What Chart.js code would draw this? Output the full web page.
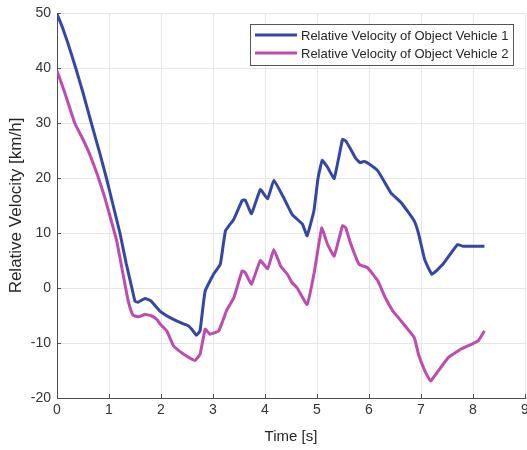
<!DOCTYPE html>
<html>
<head>
<meta charset="utf-8">
<script src="https://cdn.jsdelivr.net/npm/chart.js@4"></script>
<style>
html, body { margin: 0; padding: 0; background: #fff; }
#wrap { width: 527px; height: 450px; }
</style>
</head>
<body>
<div id="wrap"><canvas id="velChart" width="527" height="450"></canvas></div>
<script>
// data
const seriesNames = [
  "Relative Velocity of Object Vehicle 1",
  "Relative Velocity of Object Vehicle 2"
];

const time1 = [0.00, 0.10, 0.20, 0.36, 0.50, 0.66, 0.82, 0.95, 1.08, 1.21, 1.33, 1.44, 1.50, 1.56, 1.69, 1.80, 1.98, 2.10, 2.24, 2.40, 2.53, 2.60, 2.68, 2.75, 2.80, 2.85, 3.01, 3.14, 3.24, 3.40, 3.56, 3.62, 3.74, 3.91, 4.05, 4.17, 4.36, 4.52, 4.72, 4.81, 4.94, 5.02, 5.10, 5.20, 5.33, 5.49, 5.55, 5.65, 5.75, 5.83, 5.90, 5.96, 6.17, 6.42, 6.62, 6.87, 6.95, 7.07, 7.21, 7.42, 7.70, 7.81, 8.22];
const vel1 = [49.8, 47.5, 44.8, 40.0, 35.5, 30.0, 24.6, 20.0, 15.0, 10.0, 4.5, 0.0, -2.4, -2.6, -1.9, -2.3, -4.2, -5.0, -5.7, -6.4, -6.9, -7.6, -8.6, -7.8, -4.0, -0.5, 2.5, 4.3, 10.4, 12.5, 15.9, 16.0, 13.5, 17.9, 16.2, 19.6, 16.4, 13.4, 11.6, 9.5, 14.0, 20.0, 23.2, 22.0, 19.9, 27.0, 26.8, 25.2, 23.5, 22.8, 23.0, 22.8, 21.3, 17.3, 15.5, 12.2, 10.0, 5.2, 2.5, 4.3, 7.9, 7.6, 7.6];

const time2 = [0.00, 0.15, 0.34, 0.50, 0.63, 0.78, 0.92, 1.05, 1.15, 1.27, 1.37, 1.45, 1.50, 1.58, 1.69, 1.80, 1.92, 1.98, 2.11, 2.24, 2.40, 2.55, 2.65, 2.75, 2.85, 2.94, 3.11, 3.27, 3.40, 3.56, 3.62, 3.74, 3.91, 4.05, 4.17, 4.30, 4.43, 4.52, 4.62, 4.81, 4.95, 5.09, 5.20, 5.33, 5.49, 5.55, 5.65, 5.81, 5.97, 6.17, 6.30, 6.46, 6.60, 6.87, 6.95, 7.07, 7.16, 7.19, 7.30, 7.52, 7.77, 8.00, 8.10, 8.22];
const vel2 = [39.5, 35.5, 30.0, 27.0, 24.3, 20.5, 16.4, 12.0, 8.5, 2.5, -2.4, -4.8, -5.1, -5.2, -4.8, -5.0, -5.7, -6.5, -7.8, -10.5, -11.8, -12.7, -13.2, -12.1, -7.5, -8.4, -7.8, -3.9, -1.8, 3.1, 2.8, 0.7, 5.0, 3.5, 7.0, 4.0, 2.5, 1.0, 0.0, -3.0, 3.0, 10.9, 8.0, 5.8, 11.3, 11.0, 8.0, 4.3, 3.7, 1.3, -1.5, -4.2, -5.8, -9.0, -12.0, -15.0, -16.6, -16.9, -15.5, -12.7, -11.1, -10.1, -9.6, -7.8];

const xTicks = [0, 1, 2, 3, 4, 5, 6, 7, 8, 9];
const yTicks = [-20, -10, 0, 10, 20, 30, 40, 50];

const colors = ["#3447a4", "#bd4bb0"];

function toPoints(xs, ys) {
  return xs.map(function (x, i) { return { x: x, y: ys[i] }; });
}

// legend box inside the plot, MATLAB style
const boxLegend = {
  id: "boxLegend",
  afterDraw: function (chart) {
    const ctx = chart.ctx;
    ctx.save();
    ctx.fillStyle = "#ffffff";
    ctx.fillRect(250, 24, 263, 41);
    ctx.strokeStyle = "#555555";
    ctx.lineWidth = 1;
    ctx.strokeRect(250.5, 24.5, 263, 41);
    ctx.font = "13px 'Liberation Sans', Arial, sans-serif";
    ctx.textBaseline = "middle";
    chart.data.datasets.forEach(function (ds, i) {
      const y = 35 + i * 18;
      ctx.strokeStyle = ds.borderColor;
      ctx.lineWidth = 3;
      ctx.beginPath();
      ctx.moveTo(255, y);
      ctx.lineTo(297, y);
      ctx.stroke();
      ctx.fillStyle = "#262626";
      ctx.fillText(ds.label, 301, y + 1);
    });
    ctx.restore();
  }
};

// small inward tick marks on the two axes
const innerTicks = {
  id: "innerTicks",
  afterDatasetsDraw: function (chart) {
    const ctx = chart.ctx;
    const xs = chart.scales.x, ys = chart.scales.y;
    ctx.save();
    ctx.strokeStyle = "#4d4d4d";
    ctx.lineWidth = 1;
    ctx.beginPath();
    xTicks.forEach(function (v) {
      const px = Math.round(xs.getPixelForValue(v)) + 0.5;
      ctx.moveTo(px, ys.bottom);
      ctx.lineTo(px, ys.bottom - 4);
    });
    yTicks.forEach(function (v) {
      const py = Math.round(ys.getPixelForValue(v)) + 0.5;
      ctx.moveTo(xs.left, py);
      ctx.lineTo(xs.left + 4, py);
    });
    ctx.stroke();
    ctx.restore();
  }
};

new Chart(document.getElementById("velChart"), {
  type: "line",
  data: {
    datasets: [
      {
        label: seriesNames[0],
        data: toPoints(time1, vel1),
        borderColor: colors[0],
        borderWidth: 3,
        pointRadius: 0,
        tension: 0.1
      },
      {
        label: seriesNames[1],
        data: toPoints(time2, vel2),
        borderColor: colors[1],
        borderWidth: 3,
        pointRadius: 0,
        tension: 0.1
      }
    ]
  },
  options: {
    responsive: false,
    animation: false,
    layout: { padding: { top: 13, right: 2, bottom: 4, left: 0 } },
    plugins: {
      legend: { display: false },
      tooltip: { enabled: false }
    },
    scales: {
      x: {
        type: "linear",
        min: 0,
        max: 9,
        afterBuildTicks: function (s) { s.ticks = xTicks.map(function (v) { return { value: v }; }); },
        afterFit: function (s) { s.height = 48; s.paddingRight = 0; s.paddingLeft = 0; },
        ticks: { color: "#333333", font: { size: 14, family: "'Liberation Sans', Arial, sans-serif" }, padding: 4, maxRotation: 0 },
        grid: { color: "#e6e6e6", drawTicks: false },
        border: { color: "#4d4d4d", width: 1 },
        title: { display: true, text: "Time [s]", color: "#262626", font: { size: 15, family: "'Liberation Sans', Arial, sans-serif" }, padding: 0 }
      },
      y: {
        min: -20,
        max: 50,
        afterBuildTicks: function (s) { s.ticks = yTicks.map(function (v) { return { value: v }; }); },
        afterFit: function (s) { s.width = 57; s.paddingTop = 0; s.paddingBottom = 0; },
        ticks: { color: "#333333", font: { size: 14, family: "'Liberation Sans', Arial, sans-serif" }, padding: 6 },
        grid: { color: "#e6e6e6", drawTicks: false },
        border: { color: "#4d4d4d", width: 1 },
        title: { display: true, text: "Relative Velocity [km/h]", color: "#262626", font: { size: 17, family: "'Liberation Sans', Arial, sans-serif" }, padding: { top: 6, bottom: 0 } }
      }
    }
  },
  plugins: [innerTicks, boxLegend]
});
</script>
</body>
</html>
